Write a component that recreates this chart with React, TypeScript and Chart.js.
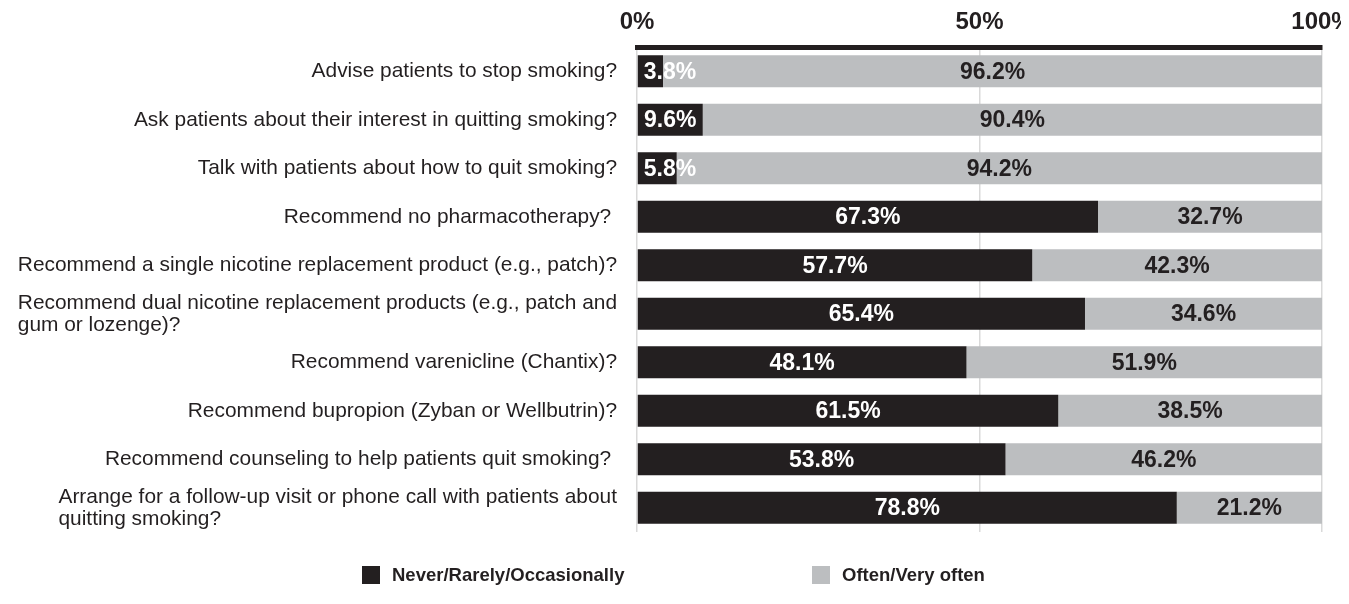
import React, { useEffect, useRef } from "react";
import { Chart, registerables } from "chart.js";

Chart.register(...registerables);

const categories: string[][] = [
  ["Advise patients to stop smoking?"],
  ["Ask patients about their interest in quitting smoking?"],
  ["Talk with patients about how to quit smoking?"],
  ["Recommend no pharmacotherapy? "],
  ["Recommend a single nicotine replacement product (e.g., patch)?"],
  ["Recommend dual nicotine replacement products (e.g., patch and", "gum or lozenge)?"],
  ["Recommend varenicline (Chantix)?"],
  ["Recommend bupropion (Zyban or Wellbutrin)?"],
  ["Recommend counseling to help patients quit smoking? "],
  ["Arrange for a follow-up visit or phone call with patients about", "quitting smoking?"],
];

const neverRarely: number[] = [3.8, 9.6, 5.8, 67.3, 57.7, 65.4, 48.1, 61.5, 53.8, 78.8];
const oftenVeryOften: number[] = [96.2, 90.4, 94.2, 32.7, 42.3, 34.6, 51.9, 38.5, 46.2, 21.2];

const seriesNames: string[] = ["Never/Rarely/Occasionally", "Often/Very often"];
const seriesColors: string[] = ["#231f20", "#bcbec0"];
const tickValues: number[] = [0, 50, 100];

const TEXT = "#231f20";
const FONT = "Arial, 'Liberation Sans', Helvetica, sans-serif";

const labelsPlugin = {
  id: "customLabels",
  afterDatasetsDraw(chart: any) {
    const ctx = chart.ctx;
    const yScale = chart.scales.y;
    const area = chart.chartArea;
    ctx.save();
    // category labels
    ctx.font = `20.9px ${FONT}`;
    ctx.fillStyle = TEXT;
    ctx.textBaseline = "middle";
    ctx.textAlign = "left";
    const right = area.left - 20;
    const lh = 22;
    categories.forEach((lines, i) => {
      const y = yScale.getPixelForValue(i);
      const maxW = Math.max(...lines.map((l) => ctx.measureText(l).width));
      const x0 = right - maxW;
      lines.forEach((l, j) => {
        ctx.fillText(l, x0, y + (j - (lines.length - 1) / 2) * lh);
      });
    });
    // data labels
    ctx.font = `bold 23px ${FONT}`;
    ctx.textAlign = "center";
    chart.data.datasets.forEach((ds: any, di: number) => {
      const meta = chart.getDatasetMeta(di);
      meta.data.forEach((el: any, i: number) => {
        const v = ds.data[i];
        const txt = v.toFixed(1) + "%";
        const w = ctx.measureText(txt).width;
        const start = Math.min(el.base, el.x);
        const end = Math.max(el.base, el.x);
        let cx = (start + end) / 2;
        if (di === 0) cx = Math.max(cx, start + 6 + w / 2);
        ctx.fillStyle = di === 0 ? "#ffffff" : TEXT;
        ctx.fillText(txt, cx, el.y + 1);
      });
    });
    ctx.restore();
  },
  afterDraw(chart: any) {
    const ctx = chart.ctx;
    ctx.save();
    ctx.font = `bold 18.5px ${FONT}`;
    ctx.textBaseline = "middle";
    ctx.textAlign = "left";
    const legendX = [354, 804];
    const boxY = 558;
    seriesNames.forEach((name, i) => {
      ctx.fillStyle = seriesColors[i];
      ctx.fillRect(legendX[i], boxY, 18, 18);
      ctx.fillStyle = TEXT;
      ctx.fillText(name, legendX[i] + 30, boxY + 10);
    });
    ctx.restore();
  },
};

export default function App() {
  const ref = useRef<HTMLCanvasElement | null>(null);
  useEffect(() => {
    if (!ref.current) return;
    const chart = new Chart(ref.current, {
      type: "bar",
      data: {
        labels: categories.map((c) => c.join(" ")),
        datasets: [
          {
            label: seriesNames[0],
            data: neverRarely,
            backgroundColor: seriesColors[0],
            borderWidth: 0,
            barPercentage: 0.66,
            categoryPercentage: 1,
          },
          {
            label: seriesNames[1],
            data: oftenVeryOften,
            backgroundColor: seriesColors[1],
            borderWidth: 0,
            barPercentage: 0.66,
            categoryPercentage: 1,
          },
        ],
      },
      options: {
        indexAxis: "y",
        responsive: true,
        maintainAspectRatio: false,
        animation: false,
        layout: { padding: { left: 629, right: 27, top: 0, bottom: 64 } },
        plugins: {
          legend: { display: false },
          tooltip: { enabled: false },
        },
        scales: {
          x: {
            position: "top",
            stacked: true,
            min: 0,
            max: 100,
            afterFit: (scale: any) => {
              scale.height = 39;
              scale.paddingLeft = 0;
              scale.paddingRight = 0;
            },
            afterBuildTicks: (scale: any) => {
              scale.ticks = tickValues.map((v) => ({ value: v }));
            },
            ticks: {
              callback: (v: any) => v + "%",
              font: { family: FONT, size: 24, weight: "bold" },
              color: TEXT,
              padding: 10,
              maxRotation: 0,
              autoSkip: false,
            },
            grid: { color: "#d9d9d9", lineWidth: 1.5, drawTicks: false },
            border: { display: true, color: TEXT, width: 5 },
          },
          y: {
            stacked: true,
            display: false,
          },
        },
      },
      plugins: [labelsPlugin],
    });
    return () => chart.destroy();
  }, []);
  return (
    <div style={{ width: "1341px", height: "588px", position: "relative" }}>
      <canvas ref={ref} />
    </div>
  );
}
